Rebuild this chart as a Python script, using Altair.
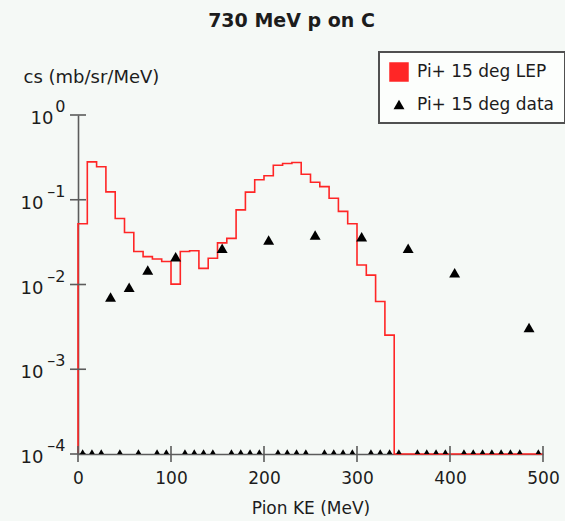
import altair as alt
import pandas as pd

# LEP model: pi+ cross section at 15 deg in 10 MeV bins (lower bin edges)
bin_lo = list(range(0, 500, 10))
lep_cs = [0.052, 0.28, 0.245, 0.124, 0.060, 0.041, 0.0245, 0.0213, 0.0200, 0.0187,
          0.0101, 0.0245, 0.0250, 0.0155, 0.0204, 0.031, 0.035, 0.076, 0.123, 0.172,
          0.192, 0.255, 0.268, 0.275, 0.200, 0.161, 0.143, 0.104, 0.073, 0.052,
          0.017, 0.0129, 0.0063, 0.00253, 0, 0, 0, 0, 0, 0,
          0, 0, 0, 0, 0, 0, 0, 0, 0, 0]

# Measured pi+ cross section at 15 deg, bin centres (zero where nothing was measured)
data_ke = list(range(5, 500, 10))
data_cs = [0, 0, 0, 0.0071, 0, 0.0093, 0, 0.0148, 0, 0,
           0.0213, 0, 0, 0, 0, 0.0268, 0, 0, 0, 0,
           0.0336, 0, 0, 0, 0, 0.0385, 0, 0, 0, 0,
           0.0367, 0, 0, 0, 0, 0.0268, 0, 0, 0, 0,
           0.0138, 0, 0, 0, 0, 0, 0, 0, 0.0031, 0]

y_ticks = [1, 0.1, 0.01, 0.001, 0.0001]
y_exponents = ["0", "\u20131", "\u20132", "\u20133", "\u20134"]
x_ticks = [0, 100, 200, 300, 400, 500]

LEP_NAME = "Pi+ 15 deg LEP"
DATA_NAME = "Pi+ 15 deg data"
FLOOR = 1e-4          # bottom of the log axis; empty bins sit on it
FONT = "DejaVu Sans"
INK = "#1c1c1c"
AXIS = "#5c5c5c"
RED = "#ff2626"

# step outline of the histogram: start on the floor, one vertex per bin edge
step_x = [0] + bin_lo + [500]
step_y = [0] + lep_cs + [lep_cs[-1]]
hist = pd.DataFrame({"ke": step_x, "cs": [max(v, FLOOR) for v in step_y]})

pts = pd.DataFrame({"ke": data_ke, "cs": [max(v, FLOOR) for v in data_cs],
                    "series": DATA_NAME})

yt = pd.DataFrame({"ke": 0, "cs": y_ticks, "exp": y_exponents, "base": "10"})
xt = pd.DataFrame({"ke": x_ticks})

xscale = alt.Scale(domain=[0, 500], nice=False, zero=False)
yscale = alt.Scale(type="log", domain=[FLOOR, 1], nice=False)

xaxis = alt.Axis(values=x_ticks, ticks=False, grid=False, labelFlush=False,
                 domainColor=AXIS, domainWidth=1.6,
                 labelFont=FONT, labelFontSize=17, labelColor=INK,
                 labelPadding=16, title="Pion KE (MeV)",
                 titleFont=FONT, titleFontSize=17, titleFontWeight="normal",
                 titleColor=INK, titleY=54, titleBaseline="middle")
yaxis = alt.Axis(values=y_ticks, ticks=False, labels=False, grid=False,
                 domainColor=AXIS, domainWidth=1.6,
                 title="cs (mb/sr/MeV)", titleFont=FONT, titleFontSize=18,
                 titleFontWeight="normal", titleColor=INK, titleAngle=0,
                 titleAlign="left", titleBaseline="middle",
                 titleX=-55, titleY=-38)

X = alt.X("ke:Q", scale=xscale, axis=xaxis)
Y = alt.Y("cs:Q", scale=yscale, axis=yaxis)

line = alt.Chart(hist).mark_line(
    interpolate="step-after", color=RED, strokeWidth=1.6
).encode(x=X, y=Y)

points = alt.Chart(pts).mark_point(filled=True, opacity=1, clip=True, strokeWidth=0).encode(
    x=X, y=Y,
    color=alt.Color("series:N",
                    scale=alt.Scale(domain=[LEP_NAME, DATA_NAME], range=[RED, "black"]),
                    legend=alt.Legend(title=None, orient="none", legendX=301, legendY=-63,
                                      fillColor="#fcfefc", strokeColor="#505050",
                                      padding=10, rowPadding=13, labelOffset=8,
                                      labelFont=FONT, labelFontSize=17, labelColor=INK,
                                      symbolStrokeWidth=0)),
    shape=alt.Shape("series:N",
                    scale=alt.Scale(domain=[LEP_NAME, DATA_NAME],
                                    range=["square", "triangle-up"])),
    size=alt.Size("series:N",
                  scale=alt.Scale(domain=[LEP_NAME, DATA_NAME], range=[380, 120])),
)

ytick_marks = alt.Chart(yt).mark_rule(color=AXIS, strokeWidth=1.6).encode(
    y=Y, x=alt.value(-8), x2=alt.value(8),
)

xtick_marks = alt.Chart(xt).mark_rule(color=AXIS, strokeWidth=1.6).encode(
    x=X, y=alt.value(331), y2=alt.value(347),
)

# y tick labels written as 10 with a raised exponent
base_top = alt.Chart(yt).transform_filter("datum.cs >= 1").mark_text(
    align="right", baseline="middle", dy=4, font=FONT, fontSize=18, color=INK
).encode(y=Y, x=alt.value(-24.5), text="base:N")

base_rest = alt.Chart(yt).transform_filter("datum.cs < 1").mark_text(
    align="right", baseline="middle", dy=4, font=FONT, fontSize=18, color=INK
).encode(y=Y, x=alt.value(-34.5), text="base:N")

expo = alt.Chart(yt).mark_text(
    align="right", baseline="middle", dy=-8, font=FONT, fontSize=16, color=INK
).encode(y=Y, x=alt.value(-12.5), text="exp:N")

chart = alt.layer(
    line, xtick_marks, ytick_marks, points, base_top, base_rest, expo
).properties(
    width=465, height=339,
    background="#f5f9f6",
    padding={"left": 78, "top": 115, "right": 22, "bottom": 67},
    autosize=alt.AutoSizeParams(type="none"),
    title=alt.TitleParams("730 MeV p on C", font=FONT, fontSize=19, fontWeight="bold",
                          color=INK, anchor="middle", dx=-19, offset=20),
).configure_view(stroke=None).configure_legend(strokeWidth=2)

chart.save("out.html", embed_options={"renderer": "svg", "actions": False})
